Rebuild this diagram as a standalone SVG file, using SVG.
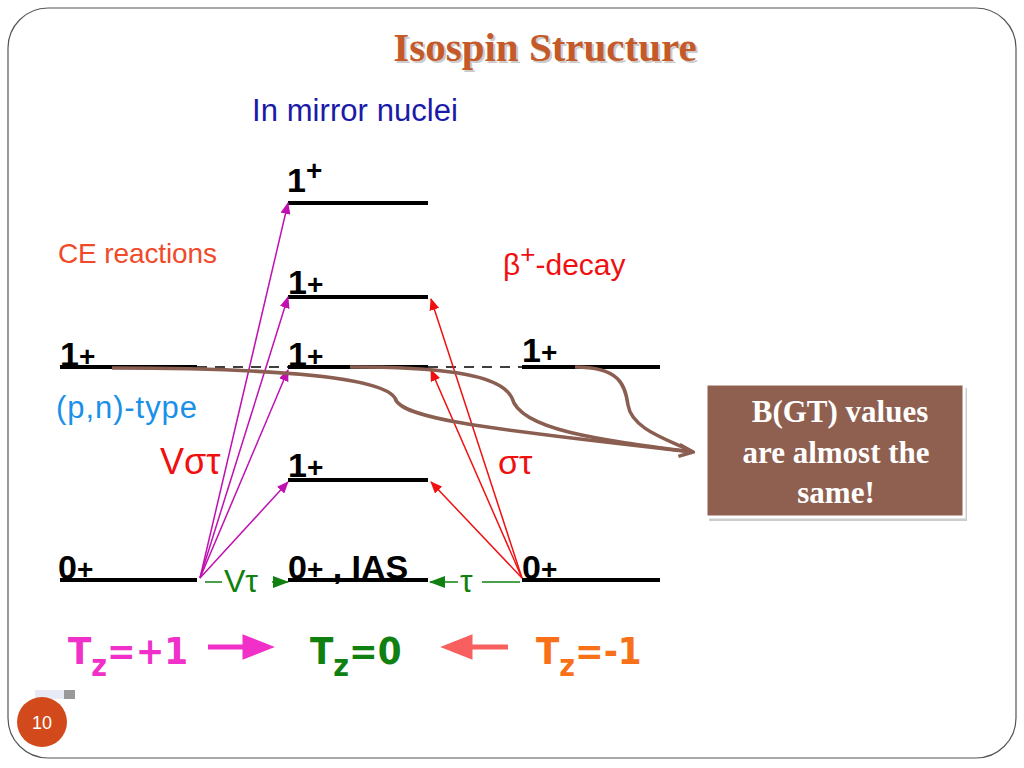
<svg xmlns="http://www.w3.org/2000/svg" width="1024" height="768" viewBox="0 0 1024 768">
<style>
.lv{stroke:#000;stroke-width:4}
.lb{font-family:"Liberation Sans",sans-serif;font-size:34px;fill:#000;font-weight:bold}
.mg{stroke:#c010b0;stroke-width:1.5;fill:none}
.rd{stroke:#f01010;stroke-width:1.5;fill:none}
.br{stroke:#8a5e50;stroke-width:3.5;fill:none}
.sf{font-family:"Liberation Sans",sans-serif}
</style>
<defs>
<marker id="am" markerWidth="12" markerHeight="10" refX="11" refY="5" orient="auto" markerUnits="userSpaceOnUse" viewBox="0 0 12 10"><path d="M0,0L12,5L0,10z" fill="#c010b0"/></marker>
<marker id="ar" markerWidth="12" markerHeight="10" refX="11" refY="5" orient="auto" markerUnits="userSpaceOnUse" viewBox="0 0 12 10"><path d="M0,0L12,5L0,10z" fill="#f01010"/></marker>
<marker id="ag" markerWidth="16" markerHeight="12" refX="15" refY="6" orient="auto" markerUnits="userSpaceOnUse" viewBox="0 0 16 12"><path d="M0,0L16,6L0,12z" fill="#108010"/></marker>
<marker id="ab" markerWidth="18" markerHeight="16" refX="16" refY="8" orient="auto" markerUnits="userSpaceOnUse" viewBox="0 0 18 16"><path d="M2,2L16,8L2,14" fill="none" stroke="#8a5e50" stroke-width="3.5"/></marker>
</defs>
<rect x="8" y="8" width="1008" height="750" rx="40" fill="#fff" stroke="#555" stroke-width="1.2"/>
<text x="547" y="63" text-anchor="middle" font-family="Liberation Serif,serif" font-size="41" font-weight="bold" fill="#999" opacity="0.5">Isospin Structure</text>
<text x="545" y="61" text-anchor="middle" font-family="Liberation Serif,serif" font-size="41" font-weight="bold" fill="#c45a2a">Isospin Structure</text>
<text x="252" y="121" class="sf" font-size="31" fill="#1a1aa8" textLength="206">In mirror nuclei</text>
<text x="58" y="263" class="sf" font-size="28" fill="#f04a2a" textLength="159">CE reactions</text>
<text x="503" y="275" class="sf" font-size="30" fill="#f01010">β<tspan dy="-12" font-size="26">+</tspan><tspan dy="12">-decay</tspan></text>
<text x="56" y="418" class="sf" font-size="31" fill="#1a90e8" textLength="141">(p,n)-type</text>
<text x="160" y="474" class="sf" font-size="36" fill="#f01010">Vστ</text>
<text x="498" y="474" class="sf" font-size="34" fill="#f01010">στ</text>
<g id="levels">
<line class="lv" x1="60" y1="367" x2="197" y2="367"/>
<line class="lv" x1="60" y1="580" x2="197" y2="580"/>
<line class="lv" x1="288" y1="203" x2="428" y2="203"/>
<line class="lv" x1="288" y1="297" x2="428" y2="297"/>
<line class="lv" x1="288" y1="367" x2="428" y2="367"/>
<line class="lv" x1="288" y1="480" x2="428" y2="480"/>
<line class="lv" x1="288" y1="580" x2="428" y2="580"/>
<line class="lv" x1="522" y1="367" x2="660" y2="367"/>
<line class="lv" x1="522" y1="580" x2="660" y2="580"/>
<line x1="197" y1="367" x2="288" y2="367" stroke="#000" stroke-width="1.5" stroke-dasharray="10,8"/>
<line x1="428" y1="367" x2="522" y2="367" stroke="#000" stroke-width="1.5" stroke-dasharray="10,8"/>
<text class="lb" x="287" y="192">1<tspan dy="-12" font-size="28">+</tspan></text>
<text class="lb" x="288" y="294">1<tspan font-size="28">+</tspan></text>
<text class="lb" x="60" y="366">1<tspan font-size="28">+</tspan></text>
<text class="lb" x="288" y="366">1<tspan font-size="28">+</tspan></text>
<text class="lb" x="522" y="362">1<tspan font-size="28">+</tspan></text>
<text class="lb" x="288" y="477">1<tspan font-size="28">+</tspan></text>
<text class="lb" x="58" y="579">0<tspan font-size="28">+</tspan></text>
<text class="lb" x="288" y="579">0<tspan font-size="28">+</tspan> , IAS</text>
<text class="lb" x="522" y="579">0<tspan font-size="28">+</tspan></text>
</g>
<g id="connectors">
<line class="mg" x1="200" y1="578" x2="288" y2="203" marker-end="url(#am)"/>
<line class="mg" x1="200" y1="578" x2="288" y2="297" marker-end="url(#am)"/>
<line class="mg" x1="200" y1="578" x2="288" y2="370" marker-end="url(#am)"/>
<line class="mg" x1="200" y1="578" x2="288" y2="482" marker-end="url(#am)"/>
<line class="rd" x1="522" y1="578" x2="431" y2="299" marker-end="url(#ar)"/>
<line class="rd" x1="522" y1="578" x2="431" y2="370" marker-end="url(#ar)"/>
<line class="rd" x1="522" y1="578" x2="431" y2="482" marker-end="url(#ar)"/>
<line x1="205" y1="582" x2="288" y2="582" stroke="#108010" stroke-width="1.5" marker-end="url(#ag)"/>
<line x1="520" y1="582" x2="430" y2="582" stroke="#108010" stroke-width="1.5" marker-end="url(#ag)"/>
<rect x="222" y="563" width="50" height="32" fill="#fff"/>
<text x="224" y="592" class="sf" font-size="32" fill="#108010">Vτ</text>
<rect x="458" y="563" width="24" height="32" fill="#fff"/>
<text x="460" y="592" class="sf" font-size="32" fill="#108010">τ</text>
<path class="br" d="M112,368 C250,368 380,375 395,398 C400,420 500,430 693,452" marker-end="url(#ab)"/>
<path class="br" d="M350,367 C430,367 500,372 512,398 C520,430 600,440 693,452"/>
<path class="br" d="M575,367 C620,367 625,385 628,405 C632,430 670,440 693,452"/>
</g>
<g id="box">
<rect x="709" y="388" width="258" height="133" fill="#ccc"/>
<rect x="706" y="384" width="258" height="133" fill="#8f6050" stroke="#fff" stroke-width="3"/>
<text font-family="Liberation Serif,serif" font-size="31" font-weight="bold" fill="#fff" text-anchor="middle"><tspan x="840" y="422">B(GT) values</tspan><tspan x="836" y="463">are almost the</tspan><tspan x="836" y="503">same!</tspan></text>
</g>
<g id="tz" font-family="'DejaVu Sans Condensed','Liberation Sans',sans-serif" font-size="38" font-weight="bold">
<text x="68" y="664" fill="#f030c8">T<tspan dy="12" font-size="30">z</tspan><tspan dy="-12">=+1</tspan></text>
<path d="M208,647H245V638L268,647L245,656V647" fill="#f030c8" stroke="#f030c8" stroke-width="5"/>
<text x="310" y="664" fill="#108010">T<tspan dy="12" font-size="30">z</tspan><tspan dy="-12">=0</tspan></text>
<path d="M508,647H470V638L447,647L470,656V647" fill="#f86060" stroke="#f86060" stroke-width="5"/>
<text x="536" y="664" fill="#f87018">T<tspan dy="12" font-size="30">z</tspan><tspan dy="-12">=-1</tspan></text>
</g>
<rect x="35" y="690" width="40" height="9" fill="#e8eaf6"/>
<rect x="64" y="690" width="11" height="9" fill="#999"/>
<circle cx="42" cy="722" r="25" fill="#d24a1b"/>
<text x="42" y="729" text-anchor="middle" class="sf" font-size="18" fill="#fff">10</text>
</svg>
